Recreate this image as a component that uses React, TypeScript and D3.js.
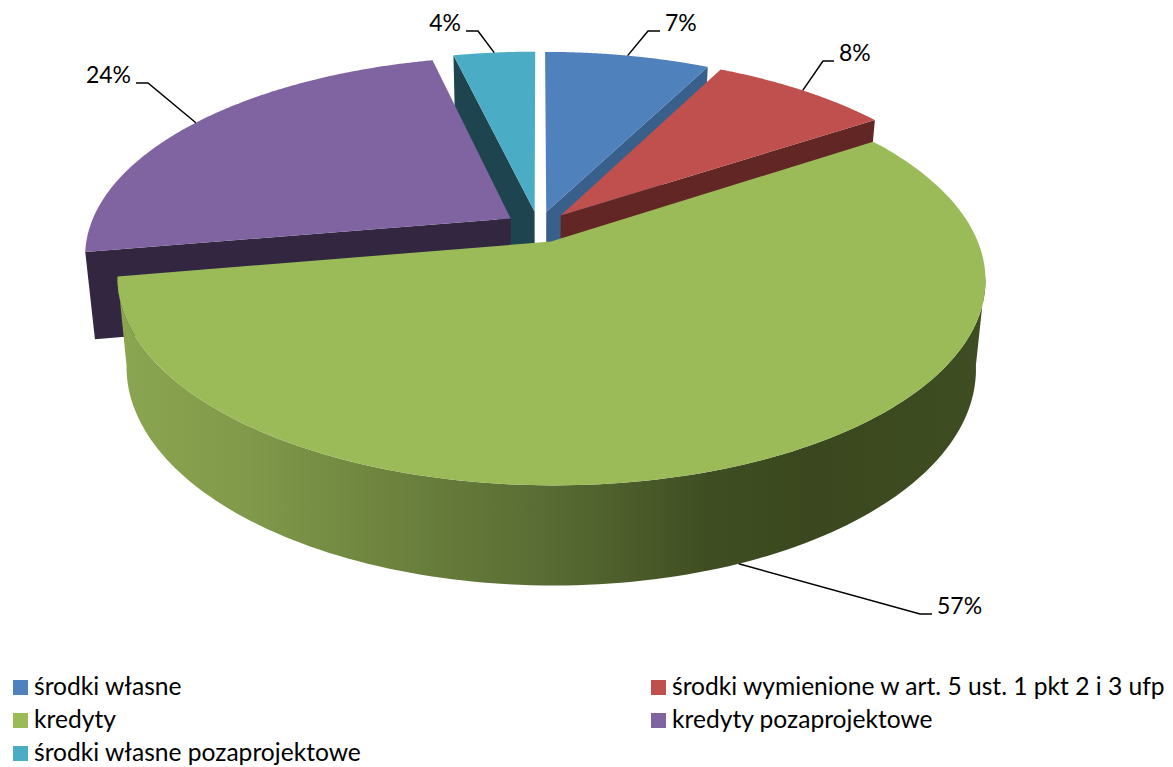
import React from "react";
import * as d3 from "d3";

const categories = [
  "środki własne",
  "środki wymienione w art. 5 ust. 1 pkt 2 i 3 ufp",
  "kredyty",
  "kredyty pozaprojektowe",
  "środki własne pozaprojektowe",
];
const seriesValues = [7.49, 8.2, 56.6, 24.0, 3.71];
const topColors = ["#4f81bd", "#c0504d", "#9bbb59", "#8064a2", "#4bacc6"];
const wallColors = ["#395f8b", "#622725", "#9bbb59", "#322640", "#1d444f"];
const drawOrder = [4, 0, 1, 3, 2];
// Leader end and elbow [endX, endY, elbowX, elbowY], indexed as categories
const labelElbows = [[660, 31, 648, 31], [834, 61, 823, 61], [932, 614, 920, 614], [136, 83, 148, 83], [466, 31, 478, 31]];
// Label baseline anchors, indexed as categories
const labelPos = [[665, 31, "start"], [839, 61, "start"], [937, 614, "start"], [131, 83, "end"], [461, 31, "end"]];
const legendRows = [
  [13, 695], [651, 695], [13, 728], [651, 728], [13, 761],
];

const FONT = "Lato, 'Open Sans', sans-serif";
const EXPLODE = 0.08;
const PERSP = 0.18;
const topPlane = { cx: 538.5, cy: 227, rx: 421, ry: 194 };
const botPlane = { cx: 538.5, cy: 313, rx: 412, ry: 204.6 };

type Plane = typeof topPlane;
const project = (pl: Plane, X: number, Y: number): [number, number] => {
  const w = 1 / (1 + PERSP * Y);
  return [pl.cx + pl.rx * X * w, pl.cy - pl.ry * Y * w];
};

const pie = d3.pie<number>().sort(null).startAngle(0).endAngle(2 * Math.PI);
const arcs = pie(seriesValues);
const line = d3.line();

export default function App() {
  const slices = arcs.map((a) => {
    const mid = (a.startAngle + a.endAngle) / 2;
    const ox = EXPLODE * Math.sin(mid);
    const oy = EXPLODE * Math.cos(mid);
    const rim = (pl: Plane, t: number) => project(pl, ox + Math.sin(t), oy + Math.cos(t));
    const apex = (pl: Plane) => project(pl, ox, oy);
    const samples = d3.range(0, 161).map((i) => a.startAngle + ((a.endAngle - a.startAngle) * i) / 160);
    return { a, mid, rim, apex, samples };
  });

  const leaderStart = (i: number) => {
    const s = slices[i];
    return i === 2 ? s.rim(botPlane, s.mid) : s.rim(topPlane, s.mid);
  };

  const faceAngle = (i: number) => (i >= 3 ? slices[i].a.startAngle : slices[i].a.endAngle);

  return (
    <svg
      width={1173}
      height={767}
      style={{ position: "absolute", left: 0, top: 0, background: "#fff" }}
      fontFamily={FONT}
    >
      <defs>
        <linearGradient id="wall" gradientUnits="userSpaceOnUse" x1={118} y1={0} x2={985} y2={0}>
          <stop offset="0" stopColor="#8ba651" />
          <stop offset="0.15" stopColor="#80994a" />
          <stop offset="0.33" stopColor="#6b813d" />
          <stop offset="0.5" stopColor="#586b33" />
          <stop offset="0.68" stopColor="#3f4e22" />
          <stop offset="0.8" stopColor="#3b481f" />
          <stop offset="1" stopColor="#3f4d22" />
        </linearGradient>
      </defs>
      {drawOrder.map((i) => {
        const s = slices[i];
        const topPts = s.samples.map((t) => s.rim(topPlane, t));
        const topPath = line([s.apex(topPlane), ...topPts]) + "Z";
        if (i === 2) {
          // The visible front wall starts where the top rim turns back towards the viewer.
          const front = s.samples.filter((t) => Math.cos(t) < -0.15);
          const wallTop = front.map((t) => s.rim(topPlane, t));
          const wallBot = front.map((t) => s.rim(botPlane, t));
          return (
            <g key={i}>
              <path d={line([...wallTop, ...wallBot.reverse()]) + "Z"} fill="url(#wall)" />
              <path d={topPath} fill={topColors[i]} />
            </g>
          );
        }
        const t = faceAngle(i);
        const face = [s.apex(topPlane), s.rim(topPlane, t), s.rim(botPlane, t), s.apex(botPlane)];
        return (
          <g key={i}>
            <path d={line(face as [number, number][]) + "Z"} fill={wallColors[i]} />
            <path d={topPath} fill={topColors[i]} />
          </g>
        );
      })}
      {categories.map((_, i) => {
        const [x0, y0] = leaderStart(i);
        const [ex, ey, mx, my] = labelElbows[i];
        return (
          <path
            key={i}
            d={line([[x0, y0], [mx, my], [ex, ey]] as [number, number][]) || ""}
            fill="none"
            stroke="#000"
            strokeWidth={1.5}
          />
        );
      })}
      {seriesValues.map((v, i) => (
        <text
          key={i}
          x={labelPos[i][0] as number}
          y={labelPos[i][1] as number}
          textAnchor={labelPos[i][2] as string}
          fontSize={23}
          fill="#000"
        >
          {`${d3.format(".0f")(Math.round(v))}%`}
        </text>
      ))}
      {categories.map((c, i) => (
        <g key={c}>
          <rect x={legendRows[i][0]} y={legendRows[i][1] - 15} width={15} height={15} fill={topColors[i]} />
          <text x={legendRows[i][0] + 21} y={legendRows[i][1]} fontSize={24.6} fill="#000">
            {c}
          </text>
        </g>
      ))}
    </svg>
  );
}
